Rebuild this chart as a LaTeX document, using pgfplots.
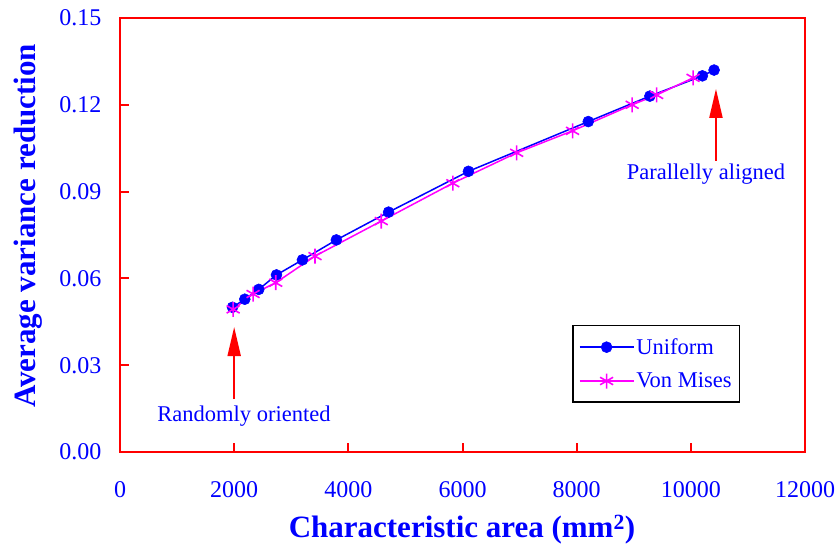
\documentclass[border=0pt]{standalone}
\usepackage{fontspec}
\setmainfont{Liberation Serif}
\usepackage{pgfplots}
\pgfplotsset{compat=1.18}
\usetikzlibrary{arrows.meta}
\definecolor{cblue}{RGB}{0,0,255}
\definecolor{cmag}{RGB}{255,0,255}
\definecolor{cred}{RGB}{255,0,0}
\begin{document}
\begin{tikzpicture}[x=1bp,y=1bp]
\path[use as bounding box] (0,0) rectangle (840,548);
\begin{axis}[
  at={(120bp,96bp)}, anchor=south west,
  scale only axis, width=685bp, height=434bp,
  xmin=0, xmax=12000, ymin=0, ymax=0.15,
  xtick={0,2000,4000,6000,8000,10000,12000},
  ytick={0,0.03,0.06,0.09,0.12,0.15},
  axis line style={cred, line width=2bp},
  every tick/.style={cred, line width=2bp},
  tick align=inside, xtick pos=left, ytick pos=left,
  major tick length=9bp,
  ticklabel style={font=\fontsize{24bp}{28bp}\selectfont, text=cblue},
  /pgf/number format/assume math mode=true,
  scaled x ticks=false, scaled y ticks=false,
  x tick label style={/pgf/number format/1000 sep={}, yshift=-26bp},
  y tick label style={/pgf/number format/.cd, fixed, fixed zerofill, precision=2, /tikz/.cd, xshift=-15bp},
  clip=false,
  legend style={at={(axis description cs:0.66,0.113)}, anchor=south west, draw=black, line width=1.5bp, fill=white,
    font=\fontsize{22.5bp}{26bp}\selectfont, text=cblue, row sep=13bp, inner xsep=6bp, inner ysep=11bp},
  legend cell align=left,
  legend image code/.code={\draw[mark repeat=2,mark phase=2] plot coordinates {(0bp,0bp) (27bp,0bp) (54bp,0bp)};},
]
\addplot[cblue, line width=1.5bp, mark=*, mark size=5.5bp, mark options={fill=cblue, line width=0.5bp}] coordinates {
(1971,0.0500) (2186,0.0528) (2431,0.0562) (2741,0.0612) (3196,0.0664) (3790,0.0733)
(4705,0.0829) (6104,0.0970) (8203,0.1142) (9282,0.1230) (10202,0.1300) (10407,0.1320)
};
\addlegendentry{Uniform}
\addplot[cmag, line width=1.5bp, mark=asterisk, mark size=7.5bp, mark options={line width=1.6bp}] coordinates {
(1982,0.0493) (2331,0.0546) (2728,0.0585) (3416,0.0677) (4577,0.0798) (5830,0.0929)
(6949,0.1034) (7928,0.1110) (8972,0.1200) (9401,0.1234) (10039,0.1293)
};
\addlegendentry{Von Mises}
\draw[cred, line width=2bp, -{Triangle[length=29bp,width=13bp]}] (axis cs:2000,0.0183) -- (axis cs:2000,0.0432);
\draw[cred, line width=2bp, -{Triangle[length=29bp,width=13bp]}] (axis cs:10440,0.1006) -- (axis cs:10440,0.1255);
\end{axis}
\node[anchor=base, text=cblue, font=\fontsize{22.5bp}{26bp}\selectfont, inner sep=0pt] at (244,126.5) {Randomly oriented};
\node[anchor=base, text=cblue, font=\fontsize{22.5bp}{26bp}\selectfont, inner sep=0pt] at (706,368) {Parallelly aligned};
\node[anchor=base, text=cblue, font=\bfseries\fontsize{31bp}{36bp}\selectfont, inner sep=0pt] at (462,10) {Characteristic area (mm\textsuperscript{2})};
\node[anchor=base, rotate=90, text=cblue, font=\bfseries\fontsize{31bp}{36bp}\selectfont, inner sep=0pt] at (35,322) {Average variance reduction};
\end{tikzpicture}
\end{document}
